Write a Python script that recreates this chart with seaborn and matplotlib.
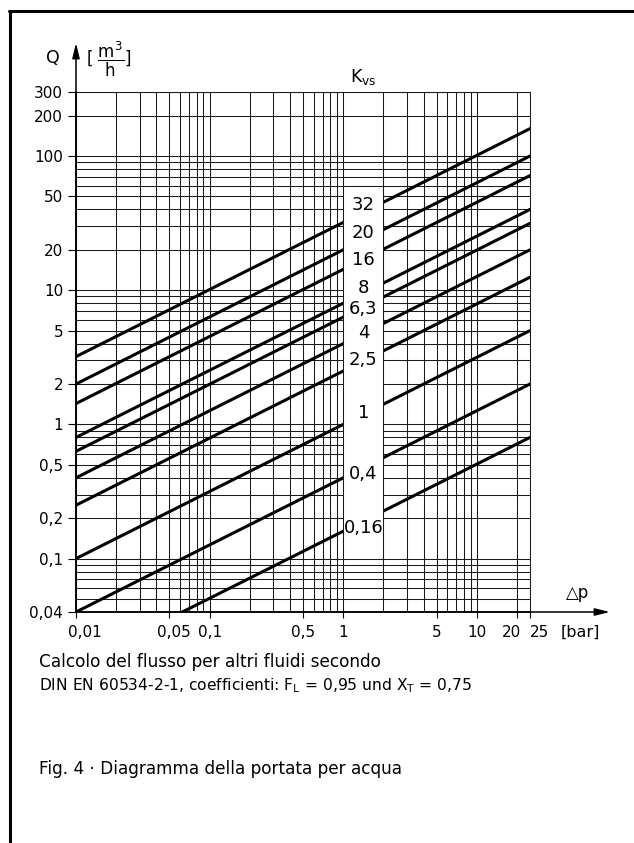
import numpy as np
import pandas as pd
import matplotlib
matplotlib.use("Agg")
import matplotlib.pyplot as plt
import matplotlib.transforms as mtransforms
from matplotlib.patches import Rectangle
from matplotlib.ticker import FixedLocator, LogLocator, NullFormatter
import seaborn as sns

# ---------------- data ----------------
kvs_labels = ["32", "20", "16", "8", "6,3", "4", "2,5", "1", "0,4", "0,16"]
dp_ends = [0.01, 25.0]                       # bar
q_at_start = [3.2, 2.0, 1.43, 0.8, 0.63, 0.4, 0.25, 0.1, 0.04, 0.016]   # m3/h at 0.01 bar
q_at_end = [160, 100, 71.5, 40, 31.5, 20, 12.5, 5, 2, 0.8]             # m3/h at 25 bar
label_q = [43, 26.6, 16.7, 10.3, 7.2, 4.78, 3.0, 1.21, 0.43, 0.17]      # label centres

x_ticks = [0.01, 0.05, 0.1, 0.5, 1, 5, 10, 20, 25]
x_ticklabels = ["0,01", "0,05", "0,1", "0,5", "1", "5", "10", "20", "25"]
y_ticks = [0.04, 0.1, 0.2, 0.5, 1, 2, 5, 10, 20, 50, 100, 200, 300]
y_ticklabels = ["0,04", "0,1", "0,2", "0,5", "1", "2", "5", "10", "20", "50", "100", "200", "300"]

gap_dp = (1.0, 2.0)
gap_q = (0.1, 60.0)

# ---------------- figure ----------------
sns.set_style("white")
plt.rcParams["font.family"] = ["DejaVu Sans"]
plt.rcParams["mathtext.fontset"] = "dejavusans"
for k in ("text.color", "axes.labelcolor", "xtick.color", "ytick.color"):
    plt.rcParams[k] = "black"

W, H = 634, 843
fig = plt.figure(figsize=(W / 100, H / 100), dpi=100)
L, R, B, T = 76, 530, 612, 92
ax = fig.add_axes([L / W, 1 - B / H, (R - L) / W, (B - T) / H])

rows = []
for lab, q0, q1 in zip(kvs_labels, q_at_start, q_at_end):
    rows.append({"kvs": lab, "dp": dp_ends[0], "Q": q0})
    rows.append({"kvs": lab, "dp": dp_ends[1], "Q": q1})
df = pd.DataFrame(rows)

sns.lineplot(data=df, x="dp", y="Q", units="kvs", estimator=None,
             color="black", linewidth=2.2, ax=ax, legend=False, zorder=2)

ax.set_xscale("log")
ax.set_yscale("log")
ax.set_xlim(0.01, 25)
ax.set_ylim(0.04, 300)

ax.xaxis.set_major_locator(FixedLocator(x_ticks))
ax.set_xticklabels(x_ticklabels)
ax.yaxis.set_major_locator(FixedLocator(y_ticks))
ax.set_yticklabels(y_ticklabels)
for axis in (ax.xaxis, ax.yaxis):
    axis.set_minor_locator(LogLocator(base=10, subs=np.arange(2, 10), numticks=100))
    axis.set_minor_formatter(NullFormatter())

ax.set_xlabel("")
ax.set_ylabel("")
ax.grid(True, which="both", color="#1a1a1a", linewidth=0.75)
ax.set_axisbelow(True)

ax.tick_params(axis="both", which="minor", length=0)
ax.tick_params(axis="x", which="major", direction="out", length=4.5, width=0.8,
               pad=5, labelsize=11, bottom=True, color="black", labelcolor="black")
ax.tick_params(axis="y", which="major", direction="out", length=5.8, width=0.8,
               pad=3.5, labelsize=11, left=True, color="black", labelcolor="black")

for side in ("top", "right"):
    ax.spines[side].set_linewidth(0.75)
    ax.spines[side].set_color("#1a1a1a")
for side in ("left", "bottom"):
    ax.spines[side].set_linewidth(1.1)
    ax.spines[side].set_color("black")

# label nudges like the reference
nudges = {"0,01": 9, "0,05": 4, "20": -6, "25": 9}
for t in ax.get_xticklabels():
    dx = nudges.get(t.get_text(), 0)
    if dx:
        t.set_transform(t.get_transform() + mtransforms.ScaledTranslation(dx / 100, 0, fig.dpi_scale_trans))

# white gap with Kvs labels
ax.add_patch(Rectangle((gap_dp[0], gap_q[0]), gap_dp[1] - gap_dp[0], gap_q[1] - gap_q[0],
                       facecolor="white", edgecolor="#1a1a1a", linewidth=0.75, zorder=3))
xc = np.sqrt(gap_dp[0] * gap_dp[1])
for lab, qy in zip(kvs_labels, label_q):
    ax.text(xc, qy, lab, ha="center", va="center", fontsize=13, zorder=5)

# axis arrows
arrow_kw = dict(arrowstyle="-|>,head_length=0.9,head_width=0.22", color="black",
                lw=1.1, mutation_scale=10, shrinkA=0, shrinkB=0)
ax.annotate("", xy=(0, (B - 43) / (B - T)), xytext=(0, 0), xycoords="axes fraction",
            textcoords="axes fraction", arrowprops=arrow_kw, annotation_clip=False)
ax.annotate("", xy=((610 - L) / (R - L), 0), xytext=(0, 0), xycoords="axes fraction",
            textcoords="axes fraction", arrowprops=arrow_kw, annotation_clip=False)

def ftext(x, y, s, **kw):
    fig.text(x / W, 1 - y / H, s, **kw)

ftext(53, 58, "Q", ha="center", va="center", fontsize=12.5)
ftext(109, 59, r"$[\ \dfrac{\mathrm{m}^3}{\mathrm{h}}]$", ha="center", va="center", fontsize=12)
ftext(363, 77, r"K$_{\mathrm{vs}}$", ha="center", va="center", fontsize=12.5)
ftext(578, 593, "△p", ha="center", va="center", fontsize=12)
ftext(580, 632, "[bar]", ha="center", va="center", fontsize=11.5)

ftext(39, 662, "Calcolo del flusso per altri fluidi secondo", ha="left", va="center", fontsize=12.2)
ftext(39, 686, r"DIN EN 60534-2-1, coefficienti: F$_\mathrm{L}$ = 0,95 und X$_\mathrm{T}$ = 0,75",
      ha="left", va="center", fontsize=11.2)
ftext(39, 769, "Fig. 4 · Diagramma della portata per acqua", ha="left", va="center", fontsize=12.2)

# page frame
fig.add_artist(plt.Line2D([10 / W, 10 / W], [0, 1 - 10.5 / H], transform=fig.transFigure,
                          color="black", linewidth=2.2))
fig.add_artist(plt.Line2D([8.9 / W, 1], [1 - 10.5 / H, 1 - 10.5 / H], transform=fig.transFigure,
                          color="black", linewidth=2.2))

fig.savefig("out.png", dpi=100)
